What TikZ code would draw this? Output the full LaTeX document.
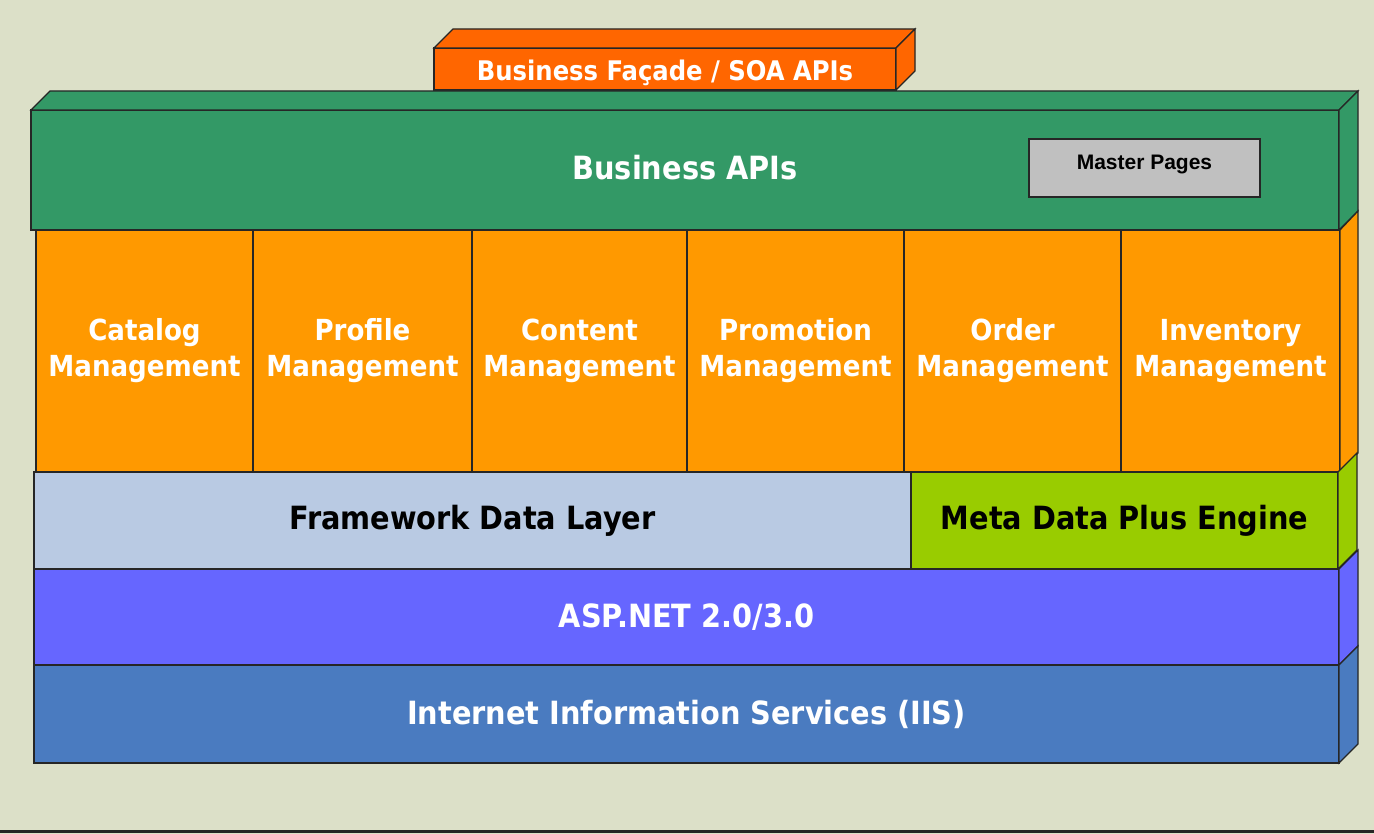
\documentclass[tikz,border=0pt]{standalone}
\usepackage{fontspec}
\newfontfamily\tah{DejaVu Sans Condensed}
\newfontfamily\arl{Liberation Sans}
\definecolor{bg}{RGB}{220,224,200}
\definecolor{facade}{RGB}{255,102,0}
\definecolor{apigreen}{RGB}{51,153,102}
\definecolor{mgmt}{RGB}{255,153,0}
\definecolor{fdl}{RGB}{185,202,227}
\definecolor{meta}{RGB}{153,204,0}
\definecolor{asp}{RGB}{102,102,255}
\definecolor{iis}{RGB}{74,123,192}
\definecolor{mpgray}{RGB}{192,192,192}
\begin{document}
\begin{tikzpicture}[x=1pt,y=-1pt,
  face/.style={draw=black!85, line width=1.2pt, line join=miter},
  box/.style={face, rectangle, inner sep=0pt, outer sep=0pt, anchor=north west, align=center},
  wt/.style={text=white, font=\tah\bfseries\fontsize{32}{38}\selectfont},
  mt/.style={text=white, font=\tah\bfseries\fontsize{29}{36}\selectfont},
  bt/.style={text=black, font=\tah\bfseries\fontsize{32}{38}\selectfont}]
\useasboundingbox (0,0) rectangle (1374,834);
\fill[bg] (0,0) rectangle (1374,834);
\draw[line width=3pt, black!85] (0,831.5) -- (1374,831.5);

% Business Facade
\node[box, text=white, font=\tah\bfseries\fontsize{27}{32}\selectfont, fill=facade, minimum width=462pt, minimum height=42pt] (fac) at (434,48) {\raisebox{-4pt}[\height][\depth]{Business Façade / SOA APIs}};
\filldraw[face, fill=facade] (fac.north west) -- ++(19,-19) -- ([shift={(19,-19)}]fac.north east) -- (fac.north east) -- cycle;
\filldraw[face, fill=facade] (fac.north east) -- ++(19,-19) -- ([shift={(19,-19)}]fac.south east) -- (fac.south east) -- cycle;

% Business APIs
\node[box, wt, fill=apigreen, minimum width=1308pt, minimum height=120pt] (api) at (31,110) {\raisebox{2pt}[\height][\depth]{Business APIs}};
\filldraw[face, fill=apigreen] (api.north west) -- ++(19,-19) -- ([shift={(19,-19)}]api.north east) -- (api.north east) -- cycle;
\filldraw[face, fill=apigreen] (api.north east) -- ++(19,-19) -- ([shift={(19,-19)}]api.south east) -- (api.south east) -- cycle;
\node[box, fill=mpgray, minimum width=231pt, minimum height=58pt, font=\arl\bfseries\fontsize{21}{25}\selectfont] (mp) at (1029,139) {\raisebox{3pt}[\height][\depth]{Master Pages}};

% Management row
\node[box, mt, fill=mgmt, minimum width=217pt, minimum height=242pt] (cat) at (36,230) {Catalog\\Management};
\node[box, mt, fill=mgmt, minimum width=219pt, minimum height=242pt] (pro) at (253,230) {Profile\\Management};
\node[box, mt, fill=mgmt, minimum width=215pt, minimum height=242pt] (con) at (472,230) {Content\\Management};
\node[box, mt, fill=mgmt, minimum width=217pt, minimum height=242pt] (prm) at (687,230) {Promotion\\Management};
\node[box, mt, fill=mgmt, minimum width=217pt, minimum height=242pt] (ord) at (904,230) {Order\\Management};
\node[box, mt, fill=mgmt, minimum width=219pt, minimum height=242pt] (inv) at (1121,230) {Inventory\\Management};
\filldraw[face, fill=mgmt] (inv.north east) -- ++(18,-19) -- ([shift={(18,-19)}]inv.south east) -- (inv.south east) -- cycle;

% Framework / Meta data
\node[box, bt, fill=fdl, minimum width=877pt, minimum height=97pt] (fw) at (34,472) {Framework Data Layer};
\node[box, bt, fill=meta, minimum width=427pt, minimum height=97pt] (md) at (911,472) {Meta Data Plus Engine};
\filldraw[face, fill=meta] (md.north east) -- ++(19,-19) -- ([shift={(19,-19)}]md.south east) -- (md.south east) -- cycle;

% ASP.NET
\node[box, wt, fill=asp, minimum width=1305pt, minimum height=96pt] (aspn) at (34,569) {ASP.NET 2.0/3.0};
\filldraw[face, fill=asp] (aspn.north east) -- ++(19,-19) -- ([shift={(19,-19)}]aspn.south east) -- (aspn.south east) -- cycle;

% IIS
\node[box, wt, fill=iis, minimum width=1305pt, minimum height=98pt] (iisn) at (34,665) {Internet Information Services (IIS)};
\filldraw[face, fill=iis] (iisn.north east) -- ++(19,-19) -- ([shift={(19,-19)}]iisn.south east) -- (iisn.south east) -- cycle;
\end{tikzpicture}
\end{document}
